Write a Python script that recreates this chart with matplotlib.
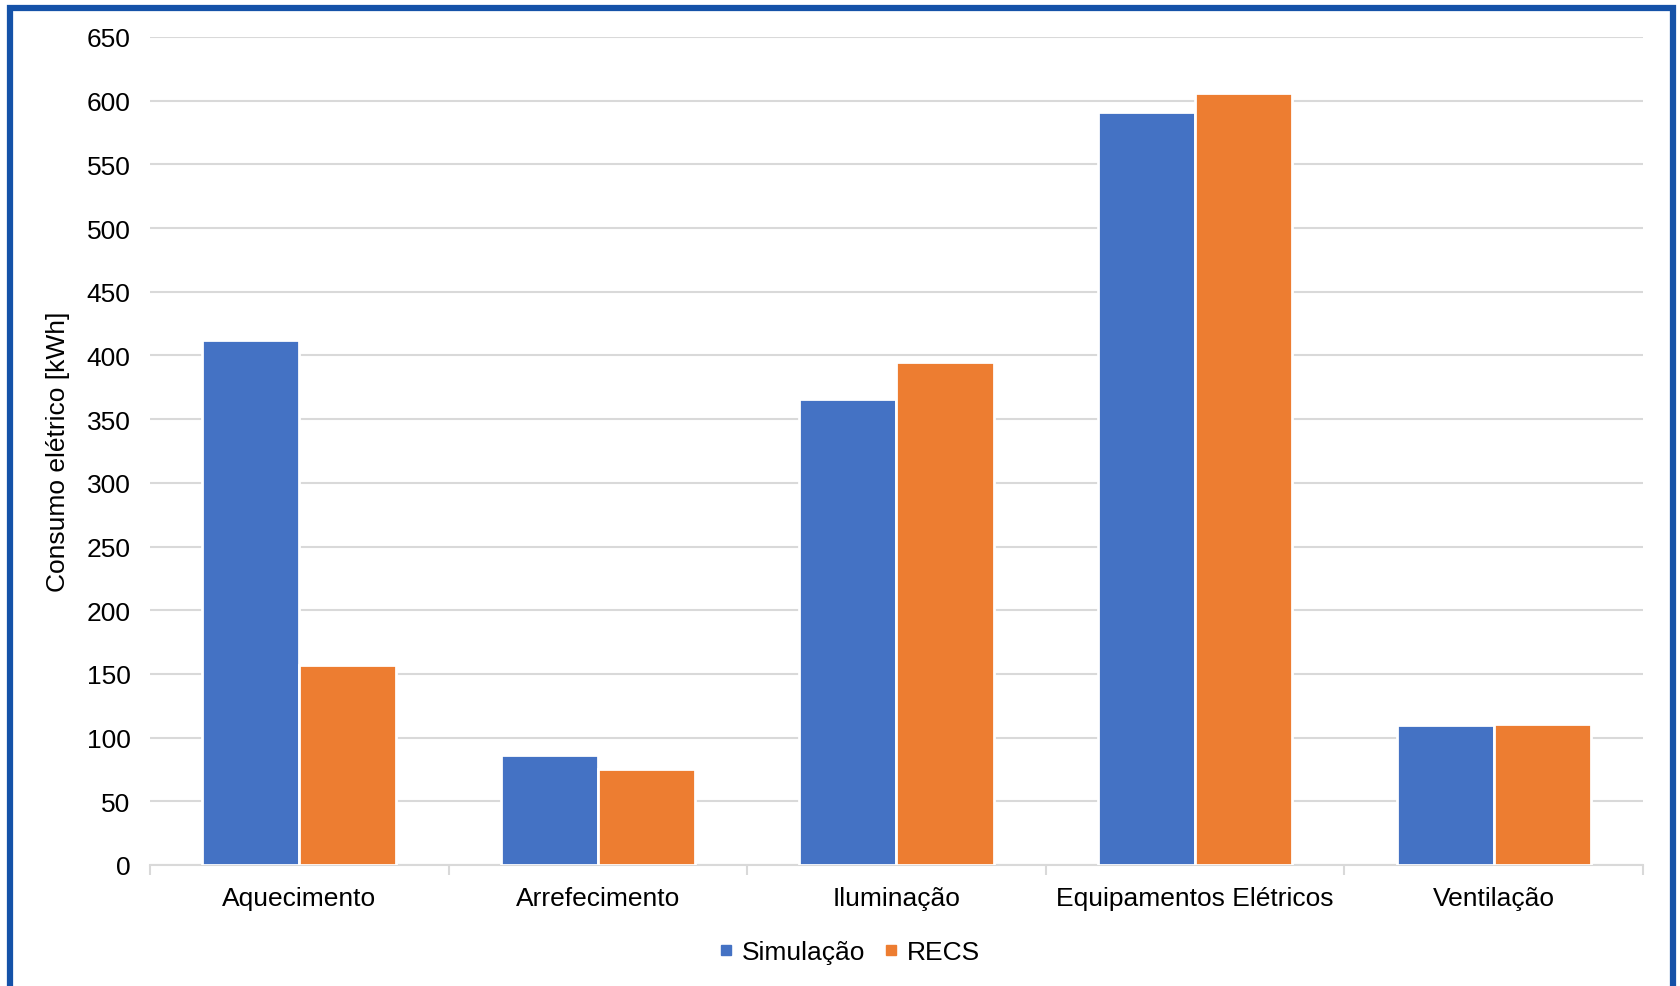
import numpy as np
import matplotlib.pyplot as plt
from matplotlib.patches import Rectangle
from matplotlib.lines import Line2D

plt.rcParams['font.family'] = ['Liberation Sans', 'DejaVu Sans']

# Consumo elétrico por uso final [kWh]
categorias = ["Aquecimento", "Arrefecimento", "Iluminação",
              "Equipamentos Elétricos", "Ventilação"]
simulacao = [412, 86, 366, 591, 110]
recs = [157, 75, 395, 606, 111]

cor_sim = "#4472C4"
cor_recs = "#ED7D31"
cor_grade = "#D9D9D9"

fig = plt.figure(figsize=(16.81, 9.87), dpi=100)
ax = fig.add_axes([0.0892, 0.1226, 0.8882, 0.8389])

x = np.arange(len(categorias))
w = 0.325
ax.bar(x - w / 2, simulacao, w, color=cor_sim, edgecolor="white", linewidth=2,
       label="Simulação", zorder=3)
ax.bar(x + w / 2, recs, w, color=cor_recs, edgecolor="white", linewidth=2,
       label="RECS", zorder=3)

ax.set_xlim(-0.5, len(categorias) - 0.5)
ax.set_ylim(0, 650)
ax.set_yticks(np.arange(0, 651, 50))
ax.yaxis.grid(True, color=cor_grade, linewidth=1.5, zorder=0)
ax.set_axisbelow(True)

ax.set_xticks(x)
ax.set_xticklabels(categorias, fontsize=19)
ax.set_xticks(np.arange(-0.5, len(categorias)), minor=True)
ax.tick_params(axis="x", which="major", length=0, pad=15)
ax.tick_params(axis="x", which="minor", length=7, width=1.5, color=cor_grade,
               direction="out")
ax.tick_params(axis="y", length=0, labelsize=19, pad=14)

for lado in ["top", "right", "left"]:
    ax.spines[lado].set_visible(False)
ax.spines["bottom"].set_color(cor_grade)
ax.spines["bottom"].set_linewidth(1.5)

ax.set_ylabel("Consumo elétrico [kWh]", fontsize=19, labelpad=12)

handles = [Line2D([], [], marker="s", linestyle="none", markersize=6.5,
                  color=cor_sim, label="Simulação"),
           Line2D([], [], marker="s", linestyle="none", markersize=6.5,
                  color=cor_recs, label="RECS")]
fig.legend(handles=handles, loc="center", bbox_to_anchor=(0.505, 0.034),
           ncol=2, frameon=False, fontsize=19, handletextpad=0.3,
           columnspacing=0.7, handlelength=0.6)

# moldura azul em torno do gráfico
fig.patches.append(Rectangle((10.5 / 1681, -0.05), 1663 / 1681, 1.05 - 8.5 / 987,
                             transform=fig.transFigure, fill=False,
                             edgecolor="#1552A8", linewidth=4.5))

fig.savefig("out.png", dpi=100)
